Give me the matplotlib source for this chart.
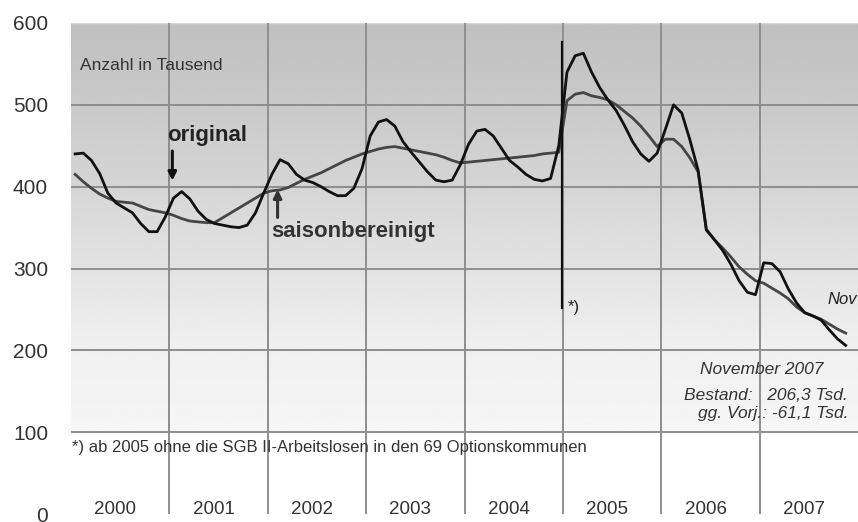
import numpy as np
import matplotlib
matplotlib.use("Agg")
import matplotlib.pyplot as plt

# ─── Data (Anzahl in Tausend, monthly Jan 2000 – Nov 2007) ────────────────────

years = [2000, 2001, 2002, 2003, 2004, 2005, 2006, 2007]
y_ticks = [0, 100, 200, 300, 400, 500, 600]

original = [
    440, 441, 432, 416, 392, 380, 374, 368, 355, 345, 345, 363,   # 2000
    386, 394, 385, 370, 360, 355, 353, 351, 350, 353, 368, 392,   # 2001
    415, 433, 428, 415, 408, 405, 400, 394, 389, 389, 398, 422,   # 2002
    462, 479, 482, 474, 455, 442, 430, 418, 408, 406, 408, 427,   # 2003
    452, 468, 470, 462, 447, 432, 424, 415, 409, 407, 410, 450,   # 2004
    540, 560, 563, 540, 521, 506, 493, 475, 455, 440, 431, 441,   # 2005
    470, 500, 490, 457, 420, 347, 335, 322, 305, 285, 271, 268,   # 2006
    307, 306, 296, 275, 258, 246, 242, 237, 225, 214, 206,        # 2007
]

saisonbereinigt = [
    415, 406, 398, 391, 386, 382, 381, 380, 376, 372, 370, 368,   # 2000
    365, 361, 358, 357, 356, 356, 362, 368, 374, 380, 386, 392,   # 2001
    395, 396, 399, 404, 409, 413, 417, 422, 427, 432, 436, 440,   # 2002
    443, 446, 448, 449, 447, 445, 443, 441, 439, 436, 432, 429,   # 2003
    430, 431, 432, 433, 434, 435, 436, 437, 438, 440, 441, 442,   # 2004
    505, 513, 515, 511, 509, 506, 500, 492, 484, 474, 462, 449,   # 2005
    458, 458, 449, 435, 418, 348, 335, 325, 314, 302, 293, 285,   # 2006
    282, 276, 270, 263, 253, 246, 242, 238, 232, 226, 221,        # 2007
]


def main():
    n = len(original)
    t = 2000 + (np.arange(n) + 0.5) / 12.0

    fig = plt.figure(figsize=(8.58, 5.22), dpi=100)
    ax = fig.add_axes([71 / 858, 1 - 514 / 522, 1 - 71 / 858, 491 / 522])
    ax.set_xlim(2000, 2008)
    ax.set_ylim(0, 600)

    # gradient background between 100 and 600
    yy = np.linspace(600, 100, 200)
    shade = np.interp(yy, [100, 200, 300, 400, 500, 600],
                      [0.965, 0.94, 0.89, 0.835, 0.79, 0.75])
    ax.imshow(shade[:, None], cmap="gray", vmin=0, vmax=1, aspect="auto",
              extent=[2000, 2008, 100, 600], zorder=0)

    for v in y_ticks[1:-1]:
        ax.axhline(v, color="#8e8e8e", lw=1.4, zorder=1)
    ax.axhline(600, color="#d6d6d6", lw=1.0, zorder=1)
    for yr in years[1:]:
        ax.axvline(yr, color="#8e8e8e", lw=1.4, zorder=1)

    for s in ax.spines.values():
        s.set_visible(False)

    ax.set_xticks([])
    ax.set_yticks(y_ticks)
    ax.set_yticklabels([str(v) for v in y_ticks], fontsize=15,
                       color="#333333", family="Liberation Sans")
    ax.tick_params(axis="y", length=0, pad=16.5)

    for yr in years:
        ax.text(yr + 0.45, 6, str(yr), ha="center", va="center",
                fontsize=13.5, color="#333333", family="Liberation Sans")

    # series
    ax.plot(t, saisonbereinigt, color="#454545", lw=2.0, zorder=3)
    ax.plot(t, original, color="#111111", lw=2.0, zorder=4)

    # break in 2005
    ax.plot([2004.99, 2004.99], [252, 577], color="#111111", lw=1.6, zorder=5)
    ax.text(2005.05, 252, "*)", fontsize=12, color="#222222",
            family="Liberation Sans", va="center", ha="left")

    ax.text(2000.09, 548, "Anzahl in Tausend", fontsize=12.5, color="#333333",
            family="Liberation Sans", va="center", ha="left")

    ax.text(2000.98, 463, "original", fontsize=16, fontweight="bold",
            color="#222222", family="Liberation Sans", va="center", ha="left")
    ax.annotate("", xy=(2001.03, 404), xytext=(2001.03, 447),
                arrowprops=dict(arrowstyle="-|>", color="#111111", lw=2.2,
                                mutation_scale=12), zorder=6)

    ax.text(2002.04, 345, "saisonbereinigt", fontsize=16, fontweight="bold",
            color="#333333", family="Liberation Sans", va="center", ha="left")
    ax.annotate("", xy=(2002.1, 400), xytext=(2002.1, 359),
                arrowprops=dict(arrowstyle="-|>", color="#333333", lw=2.2,
                                mutation_scale=12), zorder=6)

    ax.text(2007.84, 262, "Nov", fontsize=12, style="italic", color="#222222",
            family="Liberation Sans", va="center", ha="center")

    box_kw = dict(fontsize=12.5, style="italic", color="#333333",
                  family="Liberation Sans", va="center")
    ax.text(2007.02, 177, "November 2007", ha="center", **box_kw)
    ax.text(2007.9, 145, "Bestand:   206,3 Tsd.", ha="right", **box_kw)
    ax.text(2007.9, 123, "gg. Vorj.: -61,1 Tsd.", ha="right", **box_kw)

    ax.text(2000.01, 81, "*) ab 2005 ohne die SGB II-Arbeitslosen in den 69 "
            "Optionskommunen", fontsize=12, color="#333333",
            family="Liberation Sans", va="center", ha="left")

    fig.savefig("out.png", dpi=100)
    plt.close(fig)


if __name__ == "__main__":
    main()
